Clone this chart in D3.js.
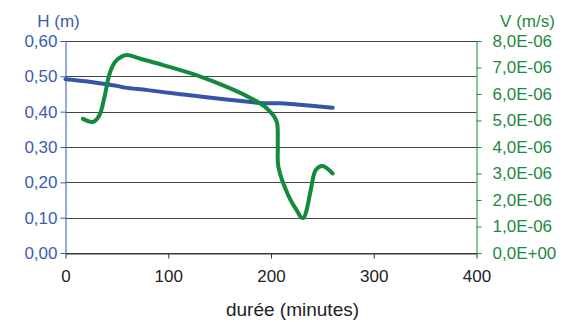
<!DOCTYPE html>
<html>
<head>
<meta charset="utf-8">
<script src="https://cdn.jsdelivr.net/npm/d3@7"></script>
<style>
  html, body { margin: 0; padding: 0; background: #fff; }
  svg { display: block; font-family: "Liberation Sans", Arial, sans-serif; }
</style>
</head>
<body>
<svg id="chart" width="565" height="322"></svg>
<script>
// Hauteur d'eau H (m) en fonction de la durée (minutes)
const hTime  = [0, 20, 43, 50, 58, 80, 112, 131, 161, 193, 209, 225, 242, 260];
const hValue = [0.492, 0.486, 0.476, 0.473, 0.468, 0.461, 0.449, 0.443, 0.433, 0.424, 0.424, 0.420, 0.416, 0.411];

// Vitesse V (m/s) en fonction de la durée (minutes)
const vTime  = [17, 27, 33, 38, 43, 48, 55, 60, 73, 95, 128, 161, 180, 193, 200, 203.6, 206, 206.6, 207.2, 217.5, 226, 229, 231.5, 234.5, 238.7, 243.6, 250, 260];
const vValue = [5.06e-6, 4.95e-6, 5.2e-6, 5.9e-6, 6.78e-6, 7.2e-6, 7.42e-6, 7.47e-6, 7.33e-6, 7.09e-6, 6.70e-6, 6.20e-6, 5.85e-6, 5.55e-6, 5.3e-6, 5.12e-6, 4.89e-6, 4.0e-6, 3.25e-6, 2.12e-6, 1.55e-6, 1.36e-6, 1.32e-6, 1.6e-6, 2.38e-6, 3.13e-6, 3.28e-6, 3.0e-6];

const xTicks = [0, 100, 200, 300, 400];
const hTicks = [0, 0.1, 0.2, 0.3, 0.4, 0.5, 0.6];
const vTicks = [0, 1e-6, 2e-6, 3e-6, 4e-6, 5e-6, 6e-6, 7e-6, 8e-6];

const blue = "#3556a8", green = "#148a3c", blueText = "#3a5db3", greenText = "#1b8a3f";

const svg = d3.select("#chart");
const plotLeft = 65.5, plotRight = 476.5, plotTop = 41, plotBottom = 253;

const x = d3.scaleLinear().domain([0, 400]).range([plotLeft, plotRight]);
const yH = d3.scaleLinear().domain([0, 0.6]).range([plotBottom, plotTop]);
const yV = d3.scaleLinear().domain([0, 8e-6]).range([plotBottom, plotTop]);

const fmtH = d => d3.format(".2f")(d).replace(".", ",");
const fmtV = d => {
  if (d === 0) return "0,0E+00";
  const e = Math.floor(Math.log10(d) + 1e-9);
  const m = d / Math.pow(10, e);
  return m.toFixed(1).replace(".", ",") + "E-" + String(-e).padStart(2, "0");
};

// horizontal gridlines
svg.append("g").selectAll("line").data(hTicks).join("line")
  .attr("x1", plotLeft).attr("x2", plotRight)
  .attr("y1", d => Math.round(yH(d)) + 0.5).attr("y2", d => Math.round(yH(d)) + 0.5)
  .attr("stroke", "#444").attr("stroke-width", 1);

// bottom axis
const xAxis = svg.append("g").attr("transform", `translate(0,${Math.round(plotBottom) + 0.5})`)
  .call(d3.axisBottom(x).tickValues(xTicks).tickSize(5).tickSizeOuter(0).tickPadding(11));
xAxis.select(".domain").attr("stroke", "#333");
xAxis.selectAll(".tick line").attr("stroke", "#333");
xAxis.selectAll(".tick text").attr("font-size", 17).attr("fill", "#222")
  .attr("font-family", "Liberation Sans, Arial, sans-serif");

// left axis (H)
const hAxis = svg.append("g").attr("transform", `translate(${plotLeft},0)`)
  .call(d3.axisLeft(yH).tickValues(hTicks).tickFormat(fmtH).tickSize(5).tickSizeOuter(0).tickPadding(3));
hAxis.select(".domain").attr("stroke", blue);
hAxis.selectAll(".tick line").attr("stroke", blue);
hAxis.selectAll(".tick text").attr("font-size", 17).attr("fill", blueText)
  .attr("font-family", "Liberation Sans, Arial, sans-serif");

// right axis (V)
const vAxis = svg.append("g").attr("transform", `translate(${plotRight},0)`)
  .call(d3.axisRight(yV).tickValues(vTicks).tickFormat(fmtV).tickSize(5).tickSizeOuter(0).tickPadding(11));
vAxis.select(".domain").attr("stroke", green);
vAxis.selectAll(".tick line").attr("stroke", green);
vAxis.selectAll(".tick text").attr("font-size", 17).attr("fill", greenText)
  .attr("font-family", "Liberation Sans, Arial, sans-serif");

// series lines
const hData = hTime.map((t, i) => [t, hValue[i]]);
const vData = vTime.map((t, i) => [t, vValue[i]]);

svg.append("path").datum(hData)
  .attr("fill", "none").attr("stroke", blue).attr("stroke-width", 4)
  .attr("stroke-linecap", "round").attr("stroke-linejoin", "round")
  .attr("d", d3.line().x(d => x(d[0])).y(d => yH(d[1])).curve(d3.curveCatmullRom.alpha(0.5)));

svg.append("path").datum(vData)
  .attr("fill", "none").attr("stroke", green).attr("stroke-width", 4)
  .attr("stroke-linecap", "round").attr("stroke-linejoin", "round")
  .attr("d", d3.line().x(d => x(d[0])).y(d => yV(d[1])).curve(d3.curveCatmullRom.alpha(0.5)));

// axis titles
svg.append("text").attr("x", 58.5).attr("y", 27).attr("text-anchor", "middle")
  .attr("font-size", 17).attr("fill", blueText).text("H (m)");
svg.append("text").attr("x", 527.5).attr("y", 27).attr("text-anchor", "middle")
  .attr("font-size", 17).attr("fill", greenText).text("V (m/s)");
svg.append("text").attr("x", 292.5).attr("y", 316).attr("text-anchor", "middle")
  .attr("font-size", 19).attr("fill", "#222").text("durée (minutes)");
</script>
</body>
</html>
